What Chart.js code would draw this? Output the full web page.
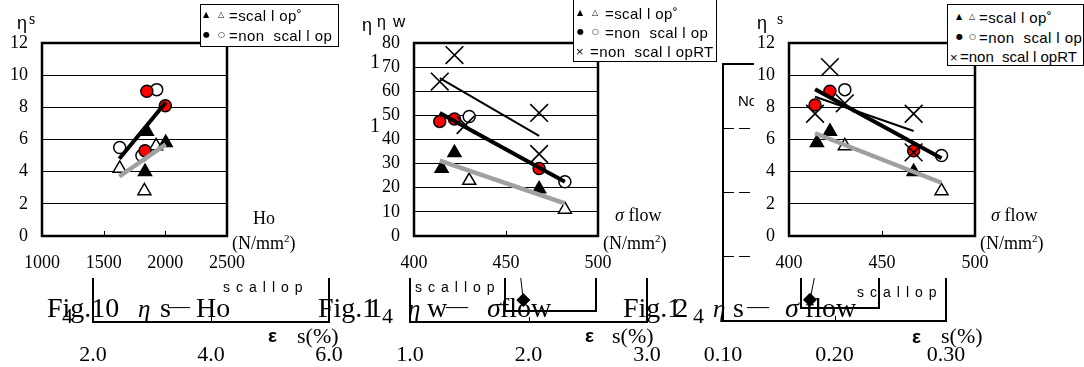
<!DOCTYPE html>
<html>
<head>
<meta charset="utf-8">
<title>Fig.10 - Fig.12</title>
<script src="https://cdn.jsdelivr.net/npm/chart.js@4.4.1/dist/chart.umd.min.js"></script>
<style>
  body { margin:0; width:1084px; height:367px; position:relative; overflow:hidden; background:#fff; }
  canvas.ov { position:absolute; left:0; top:0; }
  .panel { position:absolute; top:0; height:278px; background:#fff; }
  .t { position:absolute; white-space:pre; line-height:1; color:#000; font-family:'Liberation Serif','Times New Roman',serif; font-size:18px; }
  .sans { font-family:'Liberation Sans',Arial,sans-serif; }
  .lg { position:absolute; border:1.5px solid #000; background:#fff; box-sizing:border-box; }
  .sym { font-family:'DejaVu Sans',sans-serif; font-size:8px; }
  .lt { font-family:'Liberation Sans',Arial,sans-serif; font-size:15px; letter-spacing:0.4px; }
  .cap { font-size:28px; }
  .sc { font-family:'Liberation Sans',Arial,sans-serif; font-size:14px; letter-spacing:6px; }
  .eps { font-family:'Liberation Sans',Arial,sans-serif; font-size:19px; font-weight:bold; }
  .su { font-size:22px; }
  .ibox { position:absolute; border:2px solid #000; border-top:0; box-sizing:border-box; }
  sup { font-size:11px; line-height:0; }
</style>
</head>
<body>

<!-- εs panels lying behind the figures (mostly hidden) -->
<canvas id="ov1" class="ov" width="1084" height="367"></canvas>
<canvas id="ov2" class="ov" width="1084" height="367"></canvas>
<canvas id="ov3" class="ov" width="1084" height="367"></canvas>
<div class="ibox" style="left:504px;top:270px;width:93px;height:42px"></div>
<div class="ibox" style="left:800px;top:270px;width:80px;height:39px"></div>
<div class="t sans" style="left:738px;top:93px;font-size:15px">No</div>

<!-- the three figures -->
<div class="panel" style="left:0;width:362px"><canvas id="c1" width="362" height="278"></canvas></div>
<div class="panel" style="left:362px;width:358px"><canvas id="c2" width="358" height="278"></canvas></div>
<div class="panel" style="left:754px;width:330px"><canvas id="c3" width="330" height="278"></canvas></div>

<!-- Fig.10 axis titles -->
<div class="t sans" style="left:17px;top:14px">η</div>
<div class="t" style="left:29px;top:11px;font-size:16px">s</div>
<div class="t" style="left:253px;top:209px">Ho</div>
<div class="t" style="left:232px;top:234px">(N/mm<sup>2</sup>)</div>

<!-- Fig.11 axis titles -->
<div class="t sans" style="left:362px;top:16px">η</div>
<div class="t sans" style="left:377px;top:14px;font-size:16px">η</div>
<div class="t sans" style="left:393px;top:13px;font-size:17px">w</div>
<div class="t" style="left:370px;top:51px;font-size:20px">1</div>
<div class="t" style="left:370px;top:115px;font-size:20px">1</div>
<div class="t" style="left:615px;top:206px"><i>σ</i> flow</div>
<div class="t" style="left:603px;top:234px">(N/mm<sup>2</sup>)</div>

<!-- Fig.12 axis titles -->
<div class="t sans" style="left:757px;top:14px">η</div>
<div class="t" style="left:777px;top:11px;font-size:16px">s</div>
<div class="t" style="left:991px;top:206px"><i>σ</i> flow</div>
<div class="t" style="left:980px;top:234px">(N/mm<sup>2</sup>)</div>

<!-- legends -->
<div class="lg" style="left:200px;top:4px;width:139px;height:43px"></div>
<div class="t sym" style="left:203px;top:11px">▲</div>
<div class="t sym" style="left:218px;top:11px">△</div>
<div class="t lt" style="left:229px;top:8px">=scal l op˚</div>
<div class="t sym" style="left:203px;top:31px">●</div>
<div class="t sym" style="left:218px;top:31px">○</div>
<div class="t lt" style="left:229px;top:28px">=non  scal l op</div>

<div class="lg" style="left:573px;top:-2px;width:144px;height:64px"></div>
<div class="t sym" style="left:577px;top:9px">▲</div>
<div class="t sym" style="left:592px;top:9px">△</div>
<div class="t lt" style="left:605px;top:6px">=scal l op˚</div>
<div class="t sym" style="left:577px;top:28px">●</div>
<div class="t sym" style="left:592px;top:28px">○</div>
<div class="t lt" style="left:605px;top:25px">=non  scal l op</div>
<div class="t lt" style="left:576px;top:45px;font-size:13px">×</div>
<div class="t lt" style="left:590px;top:44px">=non  scal l opRT</div>

<div class="lg" style="left:947px;top:4px;width:137px;height:62px"></div>
<div class="t sym" style="left:956px;top:13px">▲</div>
<div class="t sym" style="left:969px;top:13px">△</div>
<div class="t lt" style="left:979px;top:10px">=scal l op˚</div>
<div class="t sym" style="left:956px;top:33px">●</div>
<div class="t sym" style="left:969px;top:33px">○</div>
<div class="t lt" style="left:979px;top:30px">=non  scal l op</div>
<div class="t lt" style="left:950px;top:51px;font-size:13px">×</div>
<div class="t lt" style="left:960px;top:49px;letter-spacing:0">=non  scal l opRT</div>

<!-- εs panel texts -->
<div class="t sc" style="left:223px;top:280px">scallop</div>
<div class="t sc" style="left:415px;top:280px">scallop</div>
<div class="t sc" style="left:857px;top:285px">scallop</div>
<div class="t eps" style="left:268px;top:326px">ε</div>
<div class="t su" style="left:297px;top:325px">s(%)</div>
<div class="t eps" style="left:585px;top:326px">ε</div>
<div class="t su" style="left:612px;top:325px">s(%)</div>
<div class="t eps" style="left:912px;top:327px">ε</div>
<div class="t su" style="left:941px;top:325px">s(%)</div>

<!-- captions -->
<div class="t cap" style="left:47px;top:294px">Fig.10</div>
<div class="t" style="left:138px;top:296px;font-size:25px;font-style:italic">η</div>
<div class="t cap" style="left:160px;top:294px">s</div>
<div class="t" style="left:168px;top:295px;font-size:22px">—</div>
<div class="t cap" style="left:196px;top:294px">Ho</div>
<div class="t" style="left:62px;top:305px;font-size:22px">4</div>

<div class="t cap" style="left:318px;top:294px">Fig.<span style="letter-spacing:-8px">1</span>1</div>
<div class="t" style="left:408px;top:296px;font-size:25px;font-style:italic">η</div>
<div class="t cap" style="left:427px;top:294px">w</div>
<div class="t" style="left:446px;top:295px;font-size:22px">—</div>
<div class="t cap" style="left:487px;top:294px;font-style:italic">σ</div>
<div class="t cap" style="left:500px;top:294px">flow</div>
<div class="t" style="left:382px;top:305px;font-size:22px">4</div>

<div class="t cap" style="left:623px;top:294px">Fig.<span style="letter-spacing:-7px">1</span>2</div>
<div class="t" style="left:713px;top:296px;font-size:25px;font-style:italic">η</div>
<div class="t cap" style="left:733px;top:294px">s</div>
<div class="t" style="left:747px;top:295px;font-size:22px">—</div>
<div class="t cap" style="left:785px;top:294px;font-style:italic">σ</div>
<div class="t cap" style="left:805px;top:294px">flow</div>
<div class="t" style="left:693px;top:305px;font-size:22px">4</div>

<script>
// Fig.10  ηs - Ho
const f10XTicks = [1000, 1500, 2000, 2500];
const f10XLabels = ['1000', '1500', '2000', '2500'];
const f10YTicks = [0, 2, 4, 6, 8, 10, 12];
const f10ScalHo = [1850, 1835, 2003];
const f10ScalEta = [6.5, 4.0, 5.8];
const f10ScalOpenHo = [1630, 1830, 1925];
const f10ScalOpenEta = [4.2, 2.8, 5.6];
const f10NonHo = [1850, 2000, 1835];
const f10NonEta = [9.0, 8.1, 5.3];
const f10NonOpenHo = [1630, 1930, 1810];
const f10NonOpenEta = [5.5, 9.1, 5.0];
const f10ScalFitHo = [1627, 2003];
const f10ScalFitEta = [3.7, 5.7];
const f10NonFitHo = [1627, 2003];
const f10NonFitEta = [4.8, 8.3];

// Fig.11  ηw - σflow
const f11XTicks = [400, 450, 500];
const f11XLabels = ['400', '450', '500'];
const f11YTicks = [0, 10, 20, 30, 40, 50, 60, 70, 80];
const f11ScalSig = [415, 422, 468];
const f11ScalEta = [28, 34.5, 19.5];
const f11ScalOpenSig = [430, 482];
const f11ScalOpenEta = [23, 11];
const f11NonSig = [414, 422, 468];
const f11NonEta = [47.5, 48.5, 28];
const f11NonOpenSig = [430, 482];
const f11NonOpenEta = [49.5, 22.5];
const f11RTSig = [422, 414, 428, 468, 468];
const f11RTEta = [75, 64, 46, 51, 34];
const f11RTFitSig = [414, 468];
const f11RTFitEta = [65.4, 41.5];
const f11NonFitSig = [414, 482];
const f11NonFitEta = [51, 22.5];
const f11ScalFitSig = [414, 482];
const f11ScalFitEta = [31.2, 13.5];

// Fig.12  ηs - σflow
const f12XTicks = [400, 450, 500];
const f12XLabels = ['400', '450', '500'];
const f12YTicks = [0, 2, 4, 6, 8, 10, 12];
const f12ScalSig = [415, 422, 467];
const f12ScalEta = [5.8, 6.5, 4.0];
const f12ScalOpenSig = [430, 482];
const f12ScalOpenEta = [5.6, 2.8];
const f12NonSig = [414, 422, 467];
const f12NonEta = [8.15, 9.0, 5.3];
const f12NonOpenSig = [430, 482];
const f12NonOpenEta = [9.1, 5.0];
const f12RTSig = [422, 414, 430, 467, 467];
const f12RTEta = [10.5, 7.6, 8.25, 7.6, 5.2];
const f12RTFitSig = [414, 467];
const f12RTFitEta = [8.66, 6.53];
const f12NonFitSig = [414, 482];
const f12NonFitEta = [9.12, 4.83];
const f12ScalFitSig = [414, 482];
const f12ScalFitEta = [6.39, 3.31];

// εs panels behind the figures
const epsAXTicks = [2.0, 4.0, 6.0];
const epsAXLabels = ['2.0', '4.0', '6.0'];
const epsBXTicks = [1.0, 2.0, 3.0];
const epsBXLabels = ['1.0', '2.0', '3.0'];
const epsCXTicks = [0.10, 0.20, 0.30];
const epsCXLabels = ['0.10', '0.20', '0.30'];
const epsYTicks = [0, 1, 2, 3, 4];
const epsBScal = [1.956, 1.81];
const epsBScalY = [0.34, 2.67];
const epsCScal = [0.178, 0.205];
const epsCScalY = [0.33, 2.66];

const serif18 = { family: "'Liberation Serif', 'Times New Roman', serif", size: 18 };
const serif22 = { family: "'Liberation Serif', 'Times New Roman', serif", size: 22 };

// plot frame + small inward ticks on the bottom axis
const frame = {
  id: 'frame',
  beforeDatasetsDraw(chart, args, opts) {
    const ctx = chart.ctx, a = chart.chartArea, xs = chart.scales.x;
    ctx.save();
    ctx.strokeStyle = '#000';
    ctx.lineWidth = 1;
    xs.ticks.slice(1, -1).forEach(function (t) {
      const px = Math.round(xs.getPixelForValue(t.value)) + 0.5;
      ctx.beginPath();
      ctx.moveTo(px, a.bottom);
      ctx.lineTo(px, a.bottom - 5);
      ctx.stroke();
    });
    ctx.lineWidth = opts.width || 2;
    ctx.strokeRect(a.left, a.top, a.right - a.left, a.bottom - a.top);
    ctx.restore();
  }
};
Chart.register(frame);

function pts(xs, ys) {
  return xs.map((x, i) => ({ x: x, y: ys[i] }));
}

function marks(xs, ys, style, fill, r, order) {
  return {
    data: pts(xs, ys), pointStyle: style, pointRadius: r,
    pointBackgroundColor: fill, pointBorderColor: '#000',
    pointBorderWidth: style === 'crossRot' ? 1.6 : 1.5, order: order
  };
}

function fit(xs, ys, color, w) {
  return { data: pts(xs, ys), showLine: true, borderColor: color, borderWidth: w, pointRadius: 0, order: 0 };
}

function plotChart(id, panelW, plotL, plotR, xTicks, xLabels, yTicks, datasets) {
  return new Chart(document.getElementById(id), {
    type: 'scatter',
    data: { datasets: datasets },
    options: {
      responsive: false,
      animation: false,
      events: [],
      layout: { padding: { top: 43, right: panelW - plotR, bottom: 0, left: 0 } },
      plugins: { legend: { display: false }, tooltip: { enabled: false }, frame: { width: 2.5 } },
      scales: {
        x: {
          type: 'linear', min: xTicks[0], max: xTicks[xTicks.length - 1],
          afterBuildTicks: s => { s.ticks = xTicks.map(v => ({ value: v })); },
          ticks: { padding: 16, maxRotation: 0, autoSkip: false, color: '#000', font: serif18,
                   callback: (v, i) => xLabels[i] },
          grid: { display: false, drawTicks: false },
          border: { display: false },
          afterFit: s => { s.height = 42; }
        },
        y: {
          min: yTicks[0], max: yTicks[yTicks.length - 1],
          afterBuildTicks: s => { s.ticks = yTicks.map(v => ({ value: v })); },
          ticks: { padding: 14, autoSkip: false, color: '#000', font: serif18, callback: v => String(v) },
          grid: { color: '#000', lineWidth: 1, drawTicks: false },
          border: { display: false },
          afterFit: s => { s.width = plotL; }
        }
      }
    }
  });
}

function epsChart(id, plotL, plotR, plotB, xTicks, xLabels, datasets) {
  return new Chart(document.getElementById(id), {
    type: 'scatter',
    data: { datasets: datasets },
    options: {
      responsive: false,
      animation: false,
      events: [],
      layout: { padding: { top: 64, right: 1084 - plotR, bottom: 0, left: 0 } },
      plugins: { legend: { display: false }, tooltip: { enabled: false }, frame: { width: 2 } },
      scales: {
        x: {
          type: 'linear', min: xTicks[0], max: xTicks[xTicks.length - 1],
          afterBuildTicks: s => { s.ticks = xTicks.map(v => ({ value: v })); },
          ticks: { padding: 342 - plotB, maxRotation: 0, autoSkip: false, color: '#000', font: serif22,
                   callback: (v, i) => xLabels[i] },
          grid: { display: false, drawTicks: false },
          border: { display: false },
          afterFit: s => { s.height = 367 - plotB; }
        },
        y: {
          min: epsYTicks[0], max: epsYTicks[epsYTicks.length - 1],
          afterBuildTicks: s => { s.ticks = epsYTicks.map(v => ({ value: v })); },
          ticks: { display: false },
          grid: { color: '#000', lineWidth: 1, drawTicks: false },
          border: { display: false, dash: [11, 5] },
          afterFit: s => { s.width = plotL; }
        }
      }
    }
  });
}

const diamond = (xs, ys) => ({
  data: pts(xs, ys), showLine: true, borderColor: '#000', borderWidth: 1,
  pointStyle: 'rectRot', pointRadius: 6.5, pointBackgroundColor: '#000', pointBorderColor: '#000'
});

epsChart('ov1', 93, 329, 322, epsAXTicks, epsAXLabels, []);
epsChart('ov2', 410, 647, 322, epsBXTicks, epsBXLabels, [diamond(epsBScal, epsBScalY)]);
epsChart('ov3', 723, 946, 321, epsCXTicks, epsCXLabels, [diamond(epsCScal, epsCScalY)]);

const RED = '#ff0000', GRAY = '#a0a0a0';

plotChart('c1', 362, 42, 227, f10XTicks, f10XLabels, f10YTicks, [
  fit(f10ScalFitHo, f10ScalFitEta, GRAY, 4.5),
  fit(f10NonFitHo, f10NonFitEta, '#000', 4),
  marks(f10NonHo, f10NonEta, 'circle', RED, 6, 2),
  marks(f10NonOpenHo, f10NonOpenEta, 'circle', '#fff', 6, 3),
  marks(f10ScalHo, f10ScalEta, 'triangle', '#000', 7.5, 4),
  marks(f10ScalOpenHo, f10ScalOpenEta, 'triangle', '#fff', 7.5, 5)
]);

plotChart('c2', 358, 52, 236, f11XTicks, f11XLabels, f11YTicks, [
  fit(f11ScalFitSig, f11ScalFitEta, GRAY, 4.5),
  fit(f11NonFitSig, f11NonFitEta, '#000', 4),
  fit(f11RTFitSig, f11RTFitEta, '#000', 2),
  marks(f11RTSig, f11RTEta, 'crossRot', '#000', 12.5, 1),
  marks(f11NonSig, f11NonEta, 'circle', RED, 6, 2),
  marks(f11NonOpenSig, f11NonOpenEta, 'circle', '#fff', 6, 3),
  marks(f11ScalSig, f11ScalEta, 'triangle', '#000', 7.5, 4),
  marks(f11ScalOpenSig, f11ScalOpenEta, 'triangle', '#fff', 7.5, 5)
]);

plotChart('c3', 330, 35, 221, f12XTicks, f12XLabels, f12YTicks, [
  fit(f12ScalFitSig, f12ScalFitEta, GRAY, 4.5),
  fit(f12NonFitSig, f12NonFitEta, '#000', 4),
  fit(f12RTFitSig, f12RTFitEta, '#000', 2),
  marks(f12RTSig, f12RTEta, 'crossRot', '#000', 12.5, 1),
  marks(f12NonSig, f12NonEta, 'circle', RED, 6, 2),
  marks(f12NonOpenSig, f12NonOpenEta, 'circle', '#fff', 6, 3),
  marks(f12ScalSig, f12ScalEta, 'triangle', '#000', 7.5, 4),
  marks(f12ScalOpenSig, f12ScalOpenEta, 'triangle', '#fff', 7.5, 5)
]);
</script>
</body>
</html>
